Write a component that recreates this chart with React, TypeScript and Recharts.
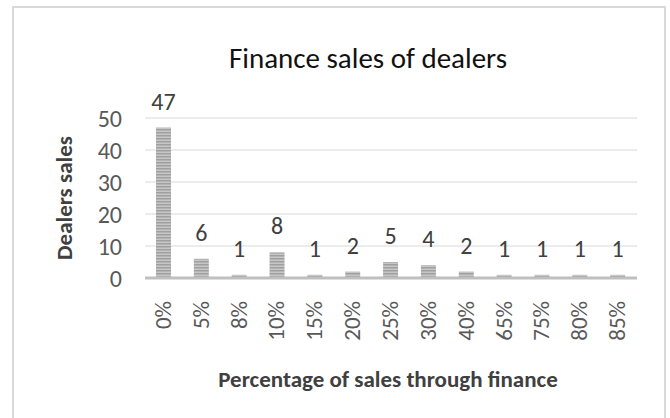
import React from "react"
import { Bar, BarChart, CartesianGrid, LabelList, XAxis, YAxis } from "recharts"

const categories = ["0%", "5%", "8%", "10%", "15%", "20%", "25%", "30%", "40%", "65%", "75%", "80%", "85%"]
const dealers = [47, 6, 1, 8, 1, 2, 5, 4, 2, 1, 1, 1, 1]
const yTicks = [0, 10, 20, 30, 40, 50]

const data = categories.map((pct, i) => ({ pct, dealers: dealers[i] }))

const font = "Carlito, 'Open Sans', 'Liberation Sans', sans-serif"

const XTick = (props: any) => {
  const { x, y, payload } = props
  return (
    <text
      x={0}
      y={0}
      transform={`translate(${x + 7},${y + 15}) rotate(-90)`}
      textAnchor="end"
      fill="#595959"
      fontSize={23}
      fontFamily={font}
    >
      {payload.value}
    </text>
  )
}

export default function App() {
  return (
    <div style={{ position: "fixed", top: 0, left: 0, width: 670, height: 418, background: "#fff" }}>
      <div
        style={{
          position: "absolute",
          left: 12,
          top: 6,
          width: 654,
          height: 420,
          border: "2px solid #d9d9d9",
          boxSizing: "border-box",
        }}
      />
      <div
        style={{
          position: "absolute",
          top: 40,
          left: 168,
          width: 400,
          textAlign: "center",
          fontFamily: font,
          fontSize: 29,
          color: "#111",
          whiteSpace: "nowrap",
        }}
      >
        Finance sales of dealers
      </div>
      <div
        style={{
          position: "absolute",
          left: 64,
          top: 198,
          transform: "translate(-50%, -50%) rotate(-90deg)",
          fontFamily: font,
          fontSize: 23,
          fontWeight: "bold",
          color: "#404040",
          whiteSpace: "nowrap",
        }}
      >
        Dealers sales
      </div>
      <div
        style={{
          position: "absolute",
          top: 365,
          left: 188,
          width: 400,
          textAlign: "center",
          fontFamily: font,
          fontSize: 23,
          fontWeight: "bold",
          color: "#404040",
          whiteSpace: "nowrap",
        }}
      >
        Percentage of sales through finance
      </div>
      <BarChart
        width={670}
        height={418}
        data={data}
        margin={{ top: 118, right: 33, left: 95, bottom: 0 }}
        style={{ position: "absolute", top: 0, left: 0 }}
      >
        <defs>
          <pattern id="stripes" width="4" height="3" patternUnits="userSpaceOnUse">
            <rect width="4" height="3" fill="#c6c6c6" />
            <rect width="4" height="1.5" fill="#a0a0a0" />
          </pattern>
        </defs>
        <CartesianGrid vertical={false} stroke="#d9d9d9" strokeWidth={1} />
        <XAxis
          dataKey="pct"
          interval={0}
          height={140}
          tickLine={false}
          axisLine={{ stroke: "#bfbfbf", strokeWidth: 3 }}
          tick={<XTick />}
        />
        <YAxis
          width={50}
          domain={[0, 50]}
          ticks={yTicks}
          axisLine={false}
          tickLine={false}
          tickSize={0}
          tick={{ fill: "#595959", fontSize: 24, fontFamily: font }}
          tickMargin={23}
        />
        <Bar dataKey="dealers" fill="url(#stripes)" barSize={15} isAnimationActive={false}>
          <LabelList
            dataKey="dealers"
            position="top"
            offset={18}
            fill="#404040"
            fontSize={24}
            fontFamily={font}
          />
        </Bar>
      </BarChart>
    </div>
  )
}
